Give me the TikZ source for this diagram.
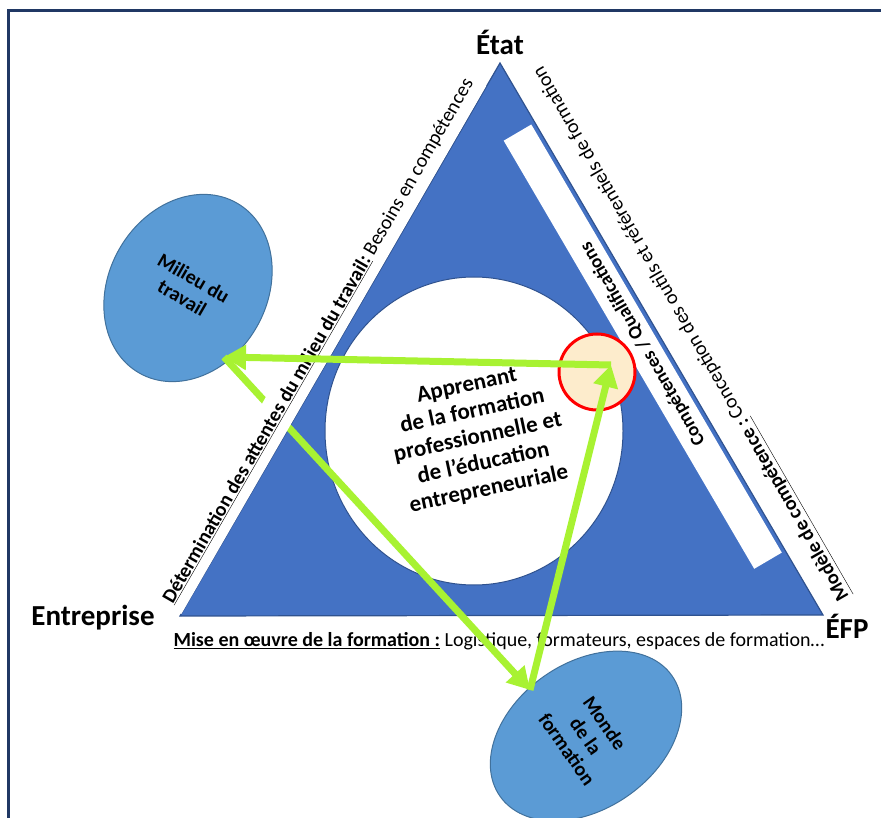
\documentclass[tikz,border=0pt]{standalone}
\usepackage{fontspec}
\setmainfont{Carlito}
\usetikzlibrary{arrows.meta,shapes.geometric}
\definecolor{framenavy}{RGB}{32,56,100}
\definecolor{triblue}{RGB}{68,114,196}
\definecolor{edgeblue}{RGB}{47,82,143}
\definecolor{ovalblue}{RGB}{91,155,213}
\definecolor{ovaledge}{RGB}{65,113,156}
\definecolor{peach}{RGB}{253,236,204}
\definecolor{arrowgreen}{RGB}{168,242,50}
\tikzset{
	pole/.style={font=\bfseries\fontsize{29}{32}\selectfont, inner sep=0pt},
	side/.style={font=\fontsize{20}{24}\selectfont},
	oval/.style={ellipse, draw=ovaledge, line width=1pt, fill=ovalblue,
		font=\bfseries\fontsize{20}{23}\selectfont, align=center, inner sep=0pt},
	link/.style={draw=arrowgreen, line width=7pt, -{Triangle[length=22pt,width=24pt]}}
}
\begin{document}
\begin{tikzpicture}[x=1pt,y=-1pt]
	\useasboundingbox (0,0) rectangle (881,818);
	\clip (0,0) rectangle (881,818);
	\draw[framenavy, line width=3pt] (8,11) rectangle (900,840);
	% triangle and inner shapes
	\filldraw[fill=triblue, draw=edgeblue, line width=1.2pt] (500,63) -- (823,615) -- (180,616) -- cycle;
	\fill[white] (531.3,124.5) -- (781.8,552.6) -- (754.2,568.8) -- (503.7,140.7) -- cycle;
	\node[side, font=\bfseries\fontsize{19}{22}\selectfont, rotate=120] (qualif) at (643,344) {Compétences / Qualifications};
	\node[ellipse, draw=edgeblue, line width=1pt, fill=white, minimum width=298pt, minimum height=308pt] (apprenant) at (474,431) {};
	\node[rotate=12, align=center, font=\bfseries\fontsize{23}{26.5}\selectfont] (apptxt) at (478,438)
		{Apprenant\\de la formation\\professionnelle et\\de l'éducation\\entrepreneuriale};
	\node[circle, draw=red, fill=peach, line width=3pt, minimum size=76pt, inner sep=0pt] (cible) at (597,372) {};
	% ovals
	\node[oval, rotate=-30, minimum width=158pt, minimum height=196pt] (milieu) at (188,288) {Milieu du\\travail};
	\node[oval, rotate=-55, minimum width=146pt, minimum height=210pt] (monde) at (586,736) {Monde\\de la\\formation};
	% side texts
	\node[side, rotate=120] (outils) at (692,333) {\textbf{\underline{Modèle de compétence :}} Conception des outils et référentiels de formation};
	\node[side] (mise) at (499,641) {\textbf{\underline{Mise en œuvre de la formation :}} Logistique, formateurs, espaces de formation…};
	% arrows
	\coordinate (pm) at (224,357);
	\coordinate (pf) at (530,690);
	\coordinate (pr) at (611,365);
	\draw[link] (pm) -- (pf);
	\node[side, fill=white, rotate=60, anchor=south, inner xsep=4pt, inner ysep=9pt] (besoins) at (334,350)
		{\textbf{\underline{Détermination des attentes du milieu du travail:}} Besoins en compétences};
	\draw[link] (pr) -- (pm);
	\draw[link] (pf) -- (pr);
	% poles
	\node[pole] (etat) at (500,42) {État};
	\node[pole] (entreprise) at (93,618) {Entreprise};
	\node[pole] (efp) at (847,626) {ÉFP};
\end{tikzpicture}
\end{document}
